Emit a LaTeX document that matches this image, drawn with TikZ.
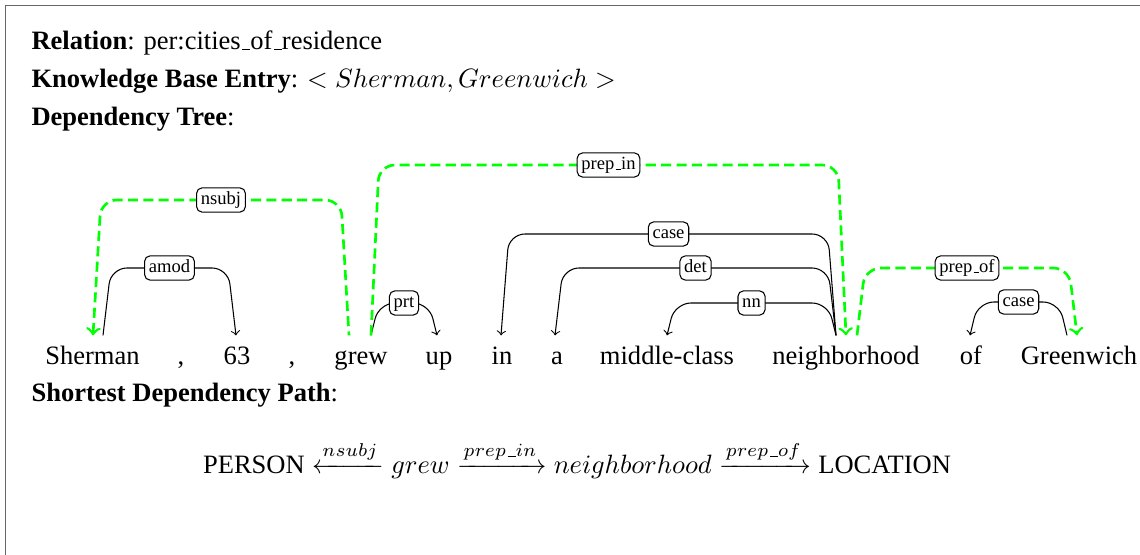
\documentclass[tikz,border=0pt]{standalone}
\usepackage{amsmath}
\usepackage{fontspec}
\setmainfont{Liberation Serif}
\usetikzlibrary{calc}
\definecolor{lgreen}{rgb}{0,1,0}
\definecolor{framegray}{rgb}{0.4,0.4,0.4}
\newcommand\dslant{8}
\newcommand\uscore{\leavevmode\kern.06em\vbox{\hrule width.3em}}
\newcommand\depedge[7]{\path ($(#1.north)+(#2,0)$) coordinate (#1-#3-l) ($(#3.north)+(#4,0)$) coordinate (#1-#3-r);\draw[depline,#7] (#1-#3-l) -- ($(#1-#3-l|-0,#5)+(\dslant,0)$) -- node[deplabel] {#6} ($(#1-#3-r|-0,#5)-(\dslant,0)$) -- (#1-#3-r);}

\begin{document}
\begin{tikzpicture}[x=0.377pt, y=-0.377pt,
	wordbox/.style={anchor=base, inner xsep=0pt, inner ysep=3.6pt, text height=7pt, text depth=2pt},
	headline/.style={anchor=base west, inner sep=0pt},
	depline/.style={rounded corners=6pt},
	deplabel/.style={draw=black, solid, line width=0.4pt, fill=white, text=black, rounded corners=2pt, font=\scriptsize, inner xsep=1.6pt, inner ysep=1.3pt, text height=5pt, text depth=1.5pt},
	greenedge/.style={lgreen, line width=1pt, dash pattern=on 3.8pt off 2pt}]
	\useasboundingbox (0,0) rectangle (1140,555);
	\draw[framegray, line width=0.6pt] (5.5,5.5) rectangle (1160,575);
	\node[headline] (rel) at (31,50) {\textbf{Relation}: per:cities\uscore of\uscore residence};
	\node[headline] (kb) at (31,88) {\textbf{Knowledge Base Entry}: $< Sherman, Greenwich >$};
	\node[headline] (tree) at (31,126) {\textbf{Dependency Tree}:};
	\node[wordbox] (sherman) at (92.5,364) {Sherman};
	\node[wordbox] (comma1) at (181,364) {,};
	\node[wordbox] (sixtythree) at (237,364) {63};
	\node[wordbox] (comma2) at (292,364) {,};
	\node[wordbox] (grew) at (361,364) {grew};
	\node[wordbox] (up) at (439,364) {up};
	\node[wordbox] (in) at (502,364) {in};
	\node[wordbox] (a) at (557,364) {a};
	\node[wordbox] (middle) at (667,364) {middle-class};
	\node[wordbox] (neigh) at (846,364) {neighborhood};
	\node[wordbox] (of) at (971,364) {of};
	\node[wordbox] (greenwich) at (1079,364) {Greenwich};
	\depedge{sherman}{10.5}{sixtythree}{-1}{268}{amod}{->}
	\depedge{sherman}{0.5}{grew}{-12}{200}{nsubj}{<-,greenedge}
	\depedge{grew}{10}{up}{-2}{303}{prt}{->}
	\depedge{grew}{10}{neigh}{0}{165}{prep\uscore in}{->,greenedge}
	\depedge{in}{-1}{neigh}{-10}{234}{case}{<-}
	\depedge{a}{-2}{neigh}{-10}{268}{det}{<-}
	\depedge{middle}{0}{neigh}{-10}{303}{nn}{<-}
	\depedge{neigh}{11}{greenwich}{-2}{268}{prep\uscore of}{->,greenedge}
	\depedge{of}{-1}{greenwich}{-12}{302}{case}{<-}
	\node[headline] (sdphead) at (31,401) {\textbf{Shortest Dependency Path}:};
	\node[anchor=base, inner sep=0pt] (sdp) at (577,473) {$\text{PERSON} \xleftarrow{nsubj} grew \xrightarrow{prep\uscore in} neighborhood \xrightarrow{prep\uscore of} \text{LOCATION}$};
\end{tikzpicture}
\end{document}
